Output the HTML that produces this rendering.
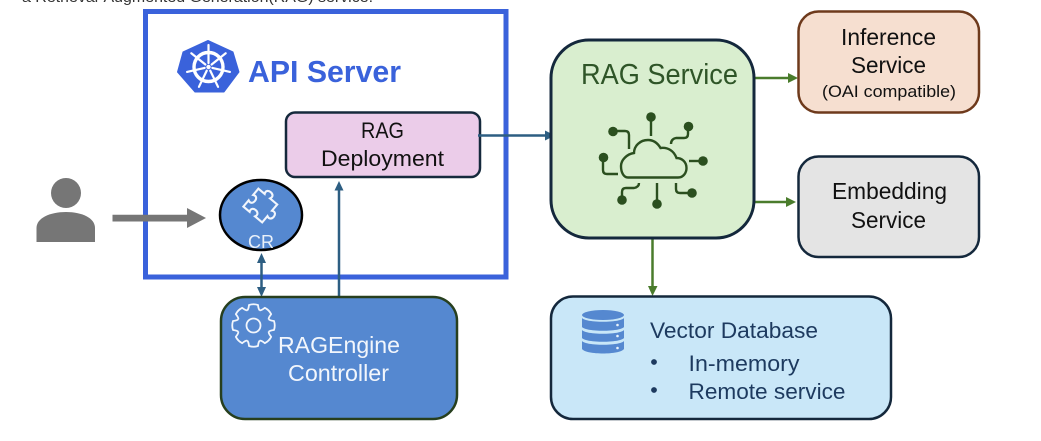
<!DOCTYPE html>
<html>
<head>
<meta charset="utf-8">
<style>
html,body{margin:0;padding:0;background:#fff;width:1041px;height:441px;overflow:hidden}
svg{display:block;filter:blur(0.35px)}
text{font-family:"Liberation Sans",sans-serif}
</style>
</head>
<body>
<svg width="1041" height="441" viewBox="0 0 1041 441" xmlns="http://www.w3.org/2000/svg">
<rect width="1041" height="441" fill="#fff"/>
<text x="22" y="2" font-size="14.5" fill="#333" textLength="351" lengthAdjust="spacingAndGlyphs">a Retrieval-Augmented Generation(RAG) service.</text>

<!-- API server frame -->
<rect x="145.5" y="11.5" width="360.5" height="265.5" fill="#fff" stroke="#3A62DB" stroke-width="5"/>

<!-- K8s logo -->
<polygon points="208,40.500 233,52 239,72 224,92 195,92 177.500,72 183,52" fill="#3A62DB" stroke="#3A62DB" stroke-width="1" stroke-linejoin="round"/>
<g transform="translate(208.5,67)" fill="none" stroke="#fff">
  <circle r="14.500" stroke-width="3.400"/>
  <circle r="2.200" fill="#fff" stroke="none"/>
  <g stroke-width="2.200" stroke-linecap="round">
    <path id="sp" d="M0 -4V-22"/>
    <use href="#sp" transform="rotate(51.43)"/>
    <use href="#sp" transform="rotate(102.86)"/>
    <use href="#sp" transform="rotate(154.29)"/>
    <use href="#sp" transform="rotate(205.71)"/>
    <use href="#sp" transform="rotate(257.14)"/>
    <use href="#sp" transform="rotate(308.57)"/>
  </g>
</g>
<text x="248" y="82" font-size="31" font-weight="bold" fill="#3A62DB" textLength="153" lengthAdjust="spacingAndGlyphs">API Server</text>

<!-- Person -->
<circle cx="66" cy="193" r="15" fill="#767676"/>
<path d="M36.500 242V228C36.500 218 50 212 66 212S95 218 95 228V242Z" fill="#767676"/>
<path d="M112.500 214.800H187V208L206 218L187 228V221.500H112.500Z" fill="#767676"/>

<!-- RAG Deployment -->
<rect x="286" y="112.500" width="194" height="64.500" rx="9" fill="#EBCCE9" stroke="#15293C" stroke-width="2.500"/>
<text x="361" y="138" font-size="22.500" fill="#111" textLength="43" lengthAdjust="spacingAndGlyphs">RAG</text>
<text x="321" y="166" font-size="22.500" fill="#111" textLength="123" lengthAdjust="spacingAndGlyphs">Deployment</text>

<!-- Blue connectors -->
<g stroke="#2D5E82" stroke-width="2.500" fill="#2D5E82">
  <line x1="478" y1="135.500" x2="546" y2="135.500"/>
  <line x1="339" y1="190" x2="339" y2="297"/>
  <line x1="261.500" y1="262" x2="261.500" y2="288"/>
</g>
<g fill="#2D5E82">
  <polygon points="555,135.500 545,130.500 545,140.500"/>
  <polygon points="339,181 334.500,190.500 343.500,190.500"/>
  <polygon points="261.500,253 257,263 266,263"/>
  <polygon points="261.500,297 257,287 266,287"/>
</g>

<!-- CR -->
<ellipse cx="261" cy="215" rx="41" ry="35" fill="#5588D0" stroke="#000" stroke-width="2.500"/>
<path transform="translate(261.500,205) rotate(40) scale(1.170)" d="M-11 -9H-4C-7 -15 5 -15 2 -9H10V-2C16 -5 16 7 10 4V11H2C5 5 -7 5 -4 11H-11V4C-5 7 -5 -5 -11 -2Z" fill="none" stroke="#F2F6FC" stroke-width="1.800"/>
<text x="248" y="248" font-size="18" fill="#EAF1FA" textLength="26" lengthAdjust="spacingAndGlyphs">CR</text>

<!-- RAGEngine Controller -->
<rect x="221" y="297" width="236" height="122" rx="24" fill="#5588D0" stroke="#273F1E" stroke-width="2.500"/>
<g transform="translate(253.500,325.500)" fill="none" stroke="#F2F6FC" stroke-width="1.800" stroke-linejoin="round">
  <circle r="7"/>
  <path id="gt" d="M-6.300 -15.200Q-5 -16 -4.500 -20.500Q0 -22 4.500 -20.500Q5 -16 6.300 -15.200"/>
  <use href="#gt" transform="rotate(45)"/>
  <use href="#gt" transform="rotate(90)"/>
  <use href="#gt" transform="rotate(135)"/>
  <use href="#gt" transform="rotate(180)"/>
  <use href="#gt" transform="rotate(225)"/>
  <use href="#gt" transform="rotate(270)"/>
  <use href="#gt" transform="rotate(315)"/>
</g>
<text x="278" y="353" font-size="23" fill="#F2F6FC" textLength="122" lengthAdjust="spacingAndGlyphs">RAGEngine</text>
<text x="288" y="381" font-size="23" fill="#F2F6FC" textLength="101" lengthAdjust="spacingAndGlyphs">Controller</text>

<!-- Green connectors -->
<g stroke="#4A7C2C" stroke-width="2.500">
  <line x1="754" y1="78" x2="792" y2="78"/>
  <line x1="752" y1="202" x2="790" y2="202"/>
  <line x1="652.500" y1="238" x2="652.500" y2="288"/>
</g>
<g fill="#4A7C2C">
  <polygon points="798,78 788,73 788,83"/>
  <polygon points="796,202 786,197 786,207"/>
  <polygon points="652.500,296 648,286 657.500,286"/>
</g>

<!-- RAG Service -->
<rect x="551" y="40" width="203" height="198" rx="38" fill="#D9EECF" stroke="#14283C" stroke-width="3"/>
<text x="581" y="84" font-size="28.500" fill="#2F5528" textLength="157" lengthAdjust="spacingAndGlyphs">RAG Service</text>
<g fill="none" stroke="#2B4F1F" stroke-width="2.400">
  <path d="M628 177.500H678C684 177.500 686.500 172 686.500 168C686.500 162 682 158 676.500 158C674 151 668 147 660.500 148C657 142 652 140 648 140C640 140 634 146 634 153C627 154 621 160 621 166C621 173 624 177.500 628 177.500Z"/>
  <path d="M651 117V136"/>
  <path d="M613 131H625Q629 131 629 135V149"/>
  <path d="M688 127V134Q688 138 684 138H676Q671 139 671 144"/>
  <path d="M689 161H703"/>
  <path d="M603 157V170Q603 174 607 174H618"/>
  <path d="M622 200V192Q622 188 626 188H634Q639 187 639 183"/>
  <path d="M657 183V204"/>
  <path d="M676 183V189Q676 193 680 193H692"/>
</g>
<g fill="#2B4F1F">
  <circle cx="651" cy="117" r="4.800"/>
  <circle cx="613" cy="131.500" r="4.800"/>
  <circle cx="688.500" cy="126.500" r="4.800"/>
  <circle cx="703" cy="161" r="4.800"/>
  <circle cx="603.500" cy="157.500" r="4.800"/>
  <circle cx="622" cy="200" r="4.800"/>
  <circle cx="657" cy="204" r="4.800"/>
  <circle cx="692" cy="193" r="4.800"/>
</g>

<!-- Inference -->
<rect x="798.500" y="11.500" width="180.500" height="101" rx="20" fill="#F6DFD0" stroke="#6E3A1C" stroke-width="2.500"/>
<text x="841" y="45" font-size="23" fill="#111" textLength="95" lengthAdjust="spacingAndGlyphs">Inference</text>
<text x="851" y="73" font-size="23" fill="#111" textLength="75" lengthAdjust="spacingAndGlyphs">Service</text>
<text x="822" y="97" font-size="17" fill="#111" textLength="134" lengthAdjust="spacingAndGlyphs">(OAI compatible)</text>

<!-- Embedding -->
<rect x="798.500" y="156.500" width="180.500" height="100.500" rx="20" fill="#E4E4E4" stroke="#14283C" stroke-width="2.500"/>
<text x="832" y="199" font-size="23" fill="#111" textLength="115" lengthAdjust="spacingAndGlyphs">Embedding</text>
<text x="851" y="228" font-size="23" fill="#111" textLength="75" lengthAdjust="spacingAndGlyphs">Service</text>

<!-- Vector DB -->
<rect x="551" y="296.500" width="340" height="122.500" rx="22" fill="#C9E7F8" stroke="#14283C" stroke-width="2.500"/>
<g fill="#5588D0">
  <ellipse cx="603" cy="315" rx="21" ry="5"/>
  <path d="M582 318C586 323 620 323 624 318V327C620 332 586 332 582 327Z"/>
  <path d="M582 330C586 335 620 335 624 330V338C620 343 586 343 582 338Z"/>
  <path d="M582 341C586 346 620 346 624 341V349C620 355 586 355 582 349Z"/>
</g>
<g fill="#EAF4FB">
  <circle cx="617.500" cy="325" r="1.300"/>
  <circle cx="617.500" cy="336" r="1.300"/>
  <circle cx="617.500" cy="348" r="1.300"/>
</g>
<text x="650" y="338" font-size="22.500" fill="#1D3A5F" textLength="168" lengthAdjust="spacingAndGlyphs">Vector Database</text>
<circle cx="654" cy="362" r="2.900" fill="#1D3A5F"/>
<circle cx="654" cy="390" r="2.900" fill="#1D3A5F"/>
<text x="688.500" y="371" font-size="22.500" fill="#1D3A5F" textLength="111" lengthAdjust="spacingAndGlyphs">In-memory</text>
<text x="688.500" y="399" font-size="22.500" fill="#1D3A5F" textLength="157" lengthAdjust="spacingAndGlyphs">Remote service</text>
</svg>
</body>
</html>
